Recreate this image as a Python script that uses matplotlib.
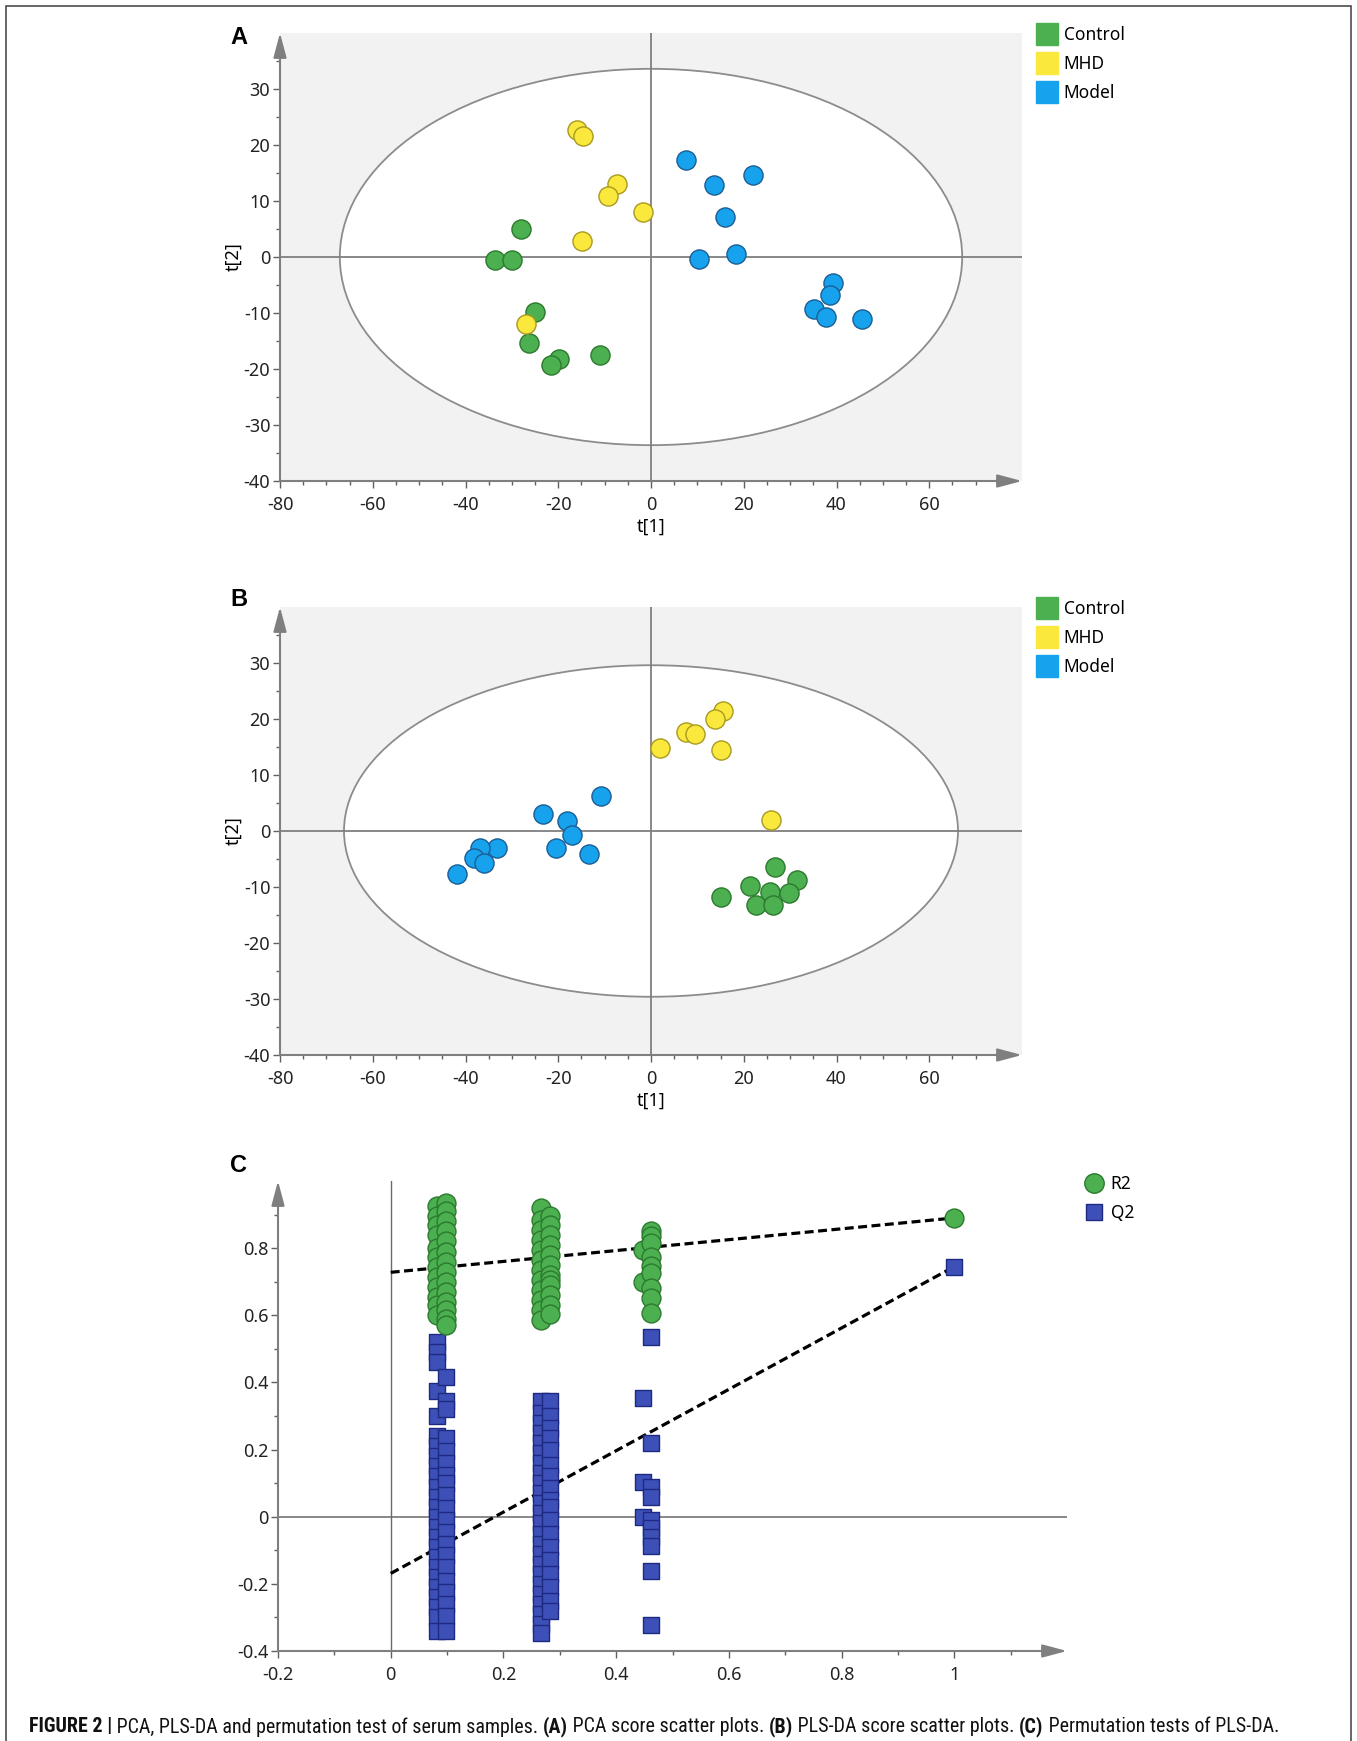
import matplotlib
matplotlib.use('Agg')
import matplotlib.pyplot as plt
from matplotlib import font_manager
from matplotlib.font_manager import FontProperties
from matplotlib.patches import Ellipse, Rectangle
from matplotlib.lines import Line2D
from matplotlib.ticker import FixedLocator, FuncFormatter

plt.rcParams['font.family'] = ['Noto Sans', 'DejaVu Sans']
plt.rcParams['axes.unicode_minus'] = False

# ---- data: PCA scores (panel A)
pca_control_x = [-28.1, -33.6, -29.9, -25.1, -26.3, -19.9, -21.5, -11.1]
pca_control_y = [5.0, -0.5, -0.5, -9.9, -15.3, -18.3, -19.2, -17.5]
pca_mhd_x = [-16.0, -14.7, -7.4, -9.2, -1.8, -14.8, -26.9]
pca_mhd_y = [22.7, 21.6, 13.1, 10.9, 8.1, 2.9, -12.0]
pca_model_x = [7.5, 22.0, 13.6, 16.0, 10.3, 18.4, 39.2, 38.6, 35.1, 37.7, 45.6]
pca_model_y = [17.4, 14.7, 12.8, 7.2, -0.4, 0.6, -4.6, -6.7, -9.3, -10.7, -11.0]
pca_ellipse = (67.1, 33.6)

# ---- data: PLS-DA scores (panel B)
pls_control_x = [26.8, 31.5, 21.4, 25.7, 29.7, 15.0, 22.6, 26.4]
pls_control_y = [-6.5, -8.8, -9.9, -10.9, -11.0, -11.7, -13.3, -13.3]
pls_mhd_x = [15.5, 13.9, 7.5, 9.4, 2.0, 15.1, 25.9]
pls_mhd_y = [21.4, 20.0, 17.7, 17.3, 14.9, 14.4, 2.0]
pls_model_x = [-10.7, -23.2, -18.1, -17.1, -20.5, -13.4, -33.2, -36.8, -38.2, -36.1, -41.9]
pls_model_y = [6.3, 3.1, 1.7, -0.7, -3.0, -4.1, -3.1, -3.1, -4.8, -5.8, -7.7]
pls_ellipse = (66.2, 29.6)

group_names = ['Control', 'MHD', 'Model']

# ---- data: permutation test (panel C), one list per column of points
perm_col_x = [0.083, 0.098, 0.266, 0.282, 0.447, 0.461]
r2_cols = [
    [0.925, 0.895, 0.87, 0.84, 0.80, 0.775, 0.745, 0.715, 0.685, 0.655, 0.63, 0.60],
    [0.935, 0.91, 0.88, 0.85, 0.82, 0.79, 0.76, 0.73, 0.70, 0.67, 0.64, 0.615, 0.59, 0.57],
    [0.92, 0.885, 0.855, 0.825, 0.795, 0.765, 0.735, 0.705, 0.675, 0.645, 0.615, 0.585],
    [0.895, 0.87, 0.84, 0.81, 0.78, 0.75, 0.72, 0.705, 0.69, 0.66, 0.63, 0.605],
    [0.793, 0.70],
    [0.852, 0.835, 0.815, 0.775, 0.747, 0.725, 0.68, 0.651, 0.608],
]
q2_cols = [
    [0.52, 0.49, 0.46, 0.375, 0.30, 0.24, 0.21, 0.18, 0.15, 0.12, 0.09, 0.06, 0.03, 0.0,
     -0.03, -0.06, -0.09, -0.12, -0.15, -0.18, -0.21, -0.24, -0.27, -0.30, -0.34],
    [0.415, 0.345, 0.32, 0.235, 0.195, 0.16, 0.125, 0.10, 0.065, 0.025, -0.01, -0.045,
     -0.08, -0.115, -0.15, -0.19, -0.225, -0.26, -0.295, -0.34],
    [0.345, 0.31, 0.28, 0.25, 0.22, 0.19, 0.16, 0.13, 0.10, 0.07, 0.04, 0.01, -0.02,
     -0.05, -0.08, -0.11, -0.14, -0.17, -0.20, -0.23, -0.26, -0.29, -0.32, -0.345],
    [0.345, 0.30, 0.265, 0.235, 0.20, 0.155, 0.12, 0.085, 0.05, 0.03, -0.01, -0.05,
     -0.09, -0.13, -0.17, -0.21, -0.25, -0.28],
    [0.354, 0.102, 0.0],
    [0.534, 0.221, 0.09, 0.06, -0.01, -0.035, -0.06, -0.088, -0.161, -0.322],
]
r2_orig = 0.89
q2_orig = 0.745
r2_intercept = 0.728
q2_intercept = -0.169

caption_parts = [
    ('FIGURE 2 |', 'bold'),
    (' PCA, PLS-DA and permutation test of serum samples. ', 'normal'),
    ('(A)', 'bold'),
    (' PCA score scatter plots. ', 'normal'),
    ('(B)', 'bold'),
    (' PLS-DA score scatter plots. ', 'normal'),
    ('(C)', 'bold'),
    (' Permutation tests of PLS-DA.', 'normal'),
]

# ---- styles
FILL = {'Control': '#4CAF50', 'MHD': '#FAE83C', 'Model': '#16A2EC'}
EDGE = {'Control': '#2B7A2E', 'MHD': '#A89A20', 'Model': '#1B5E96'}
Q2_FILL, Q2_EDGE = '#3D50B8', '#1E2A80'
AXIS_GRAY = '#7f7f7f'
TICK_SIZE = 13

W, H = 1357, 1741
fig = plt.figure(figsize=(W / 100, H / 100), dpi=100)


def px_rect(x0, y0, w, h):
    # pixel box (from top-left) -> figure fraction
    return [x0 / W, 1 - (y0 + h) / H, w / W, h / H]


def axis_arrows(ax):
    for s in ax.spines.values():
        s.set_visible(False)
    kw = dict(arrowstyle='-|>,head_length=0.75,head_width=0.2', color=AXIS_GRAY,
              lw=1.5, shrinkA=0, shrinkB=0, mutation_scale=20)
    ax.annotate('', xy=(1, 0), xytext=(0, 0), xycoords='axes fraction',
                arrowprops=kw, annotation_clip=False, zorder=5)
    ax.annotate('', xy=(0, 1), xytext=(0, 0), xycoords='axes fraction',
                arrowprops=kw, annotation_clip=False, zorder=5)


def tick_fmt(v, pos):
    s = '%g' % round(v, 2)
    return '0' if s in ('-0', '0') else s


def style_ticks(ax, xmaj, xmin, ymaj, ymin):
    ax.xaxis.set_major_locator(FixedLocator(xmaj))
    ax.xaxis.set_minor_locator(FixedLocator(xmin))
    ax.yaxis.set_major_locator(FixedLocator(ymaj))
    ax.yaxis.set_minor_locator(FixedLocator(ymin))
    ax.xaxis.set_major_formatter(FuncFormatter(tick_fmt))
    ax.yaxis.set_major_formatter(FuncFormatter(tick_fmt))
    ax.tick_params(which='major', length=5, width=1, color='#606060', labelsize=TICK_SIZE,
                   labelcolor='#222222')
    ax.tick_params(which='minor', length=3, width=1, color='#606060')
    ax.tick_params(axis='x', which='major', pad=6)
    ax.tick_params(axis='y', which='major', pad=2)


def score_plot(ax, groups, ell):
    ax.set_xlim(-80, 80)
    ax.set_ylim(-40, 40)
    ax.set_facecolor('#f2f2f2')
    ax.add_patch(Ellipse((0, 0), 2 * ell[0], 2 * ell[1], fc='white', ec='#8c8c8c',
                         lw=1.3, zorder=1))
    ax.axhline(0, color=AXIS_GRAY, lw=1.3, zorder=1.5)
    ax.axvline(0, color=AXIS_GRAY, lw=1.3, zorder=1.5)
    for name, (x, y) in zip(group_names, groups):
        ax.scatter(x, y, s=190, c=FILL[name], edgecolors=EDGE[name], linewidths=1, zorder=3)
    axis_arrows(ax)
    style_ticks(ax, range(-80, 61, 20), range(-75, 76, 5), range(-40, 31, 10), range(-35, 36, 5))
    ax.set_xlabel('t[1]', fontsize=TICK_SIZE)
    ax.set_ylabel('t[2]', fontsize=TICK_SIZE)
    ax.xaxis.set_label_coords(0.5, -0.083)
    ax.yaxis.set_label_coords(-0.05, 0.5)
    handles = [Line2D([], [], ls='', marker='s', markersize=16.5, markerfacecolor=FILL[n],
                      markeredgecolor=FILL[n]) for n in group_names]
    return handles


def score_legend(handles, top_px):
    fig.legend(handles, group_names, loc='upper left',
               bbox_to_anchor=(1036 / W, 1 - top_px / H), frameon=False, fontsize=12.5,
               borderpad=0, borderaxespad=0, handlelength=1.3, handletextpad=0.3,
               labelspacing=0.64)


# panel A
ax_a = fig.add_axes(px_rect(280, 33, 742, 448))
h = score_plot(ax_a, [(pca_control_x, pca_control_y), (pca_mhd_x, pca_mhd_y),
                      (pca_model_x, pca_model_y)], pca_ellipse)
score_legend(h, 26)

# panel B
ax_b = fig.add_axes(px_rect(280, 607, 742, 448))
h = score_plot(ax_b, [(pls_control_x, pls_control_y), (pls_mhd_x, pls_mhd_y),
                      (pls_model_x, pls_model_y)], pls_ellipse)
score_legend(h, 600)

# panel C
ax_c = fig.add_axes(px_rect(278, 1181, 789, 470))
ax_c.set_xlim(-0.2, 1.2)
ax_c.set_ylim(-0.4, 1.0)
ax_c.axhline(0, color=AXIS_GRAY, lw=1.3, zorder=1)
ax_c.axvline(0, color='#6a6a6a', lw=1.0, zorder=1)
dash = (0, (2.8, 1.4))
ax_c.plot([0, 1], [r2_intercept, r2_orig], ls=dash, color='black', lw=2.3, zorder=2)
ax_c.plot([0, 1], [q2_intercept, q2_orig], ls=dash, color='black', lw=2.3, zorder=2)
for cx, ys in zip(perm_col_x, q2_cols):
    ax_c.scatter([cx] * len(ys), ys, s=130, marker='s', c=Q2_FILL, edgecolors=Q2_EDGE,
                 linewidths=1, zorder=3)
for cx, ys in zip(perm_col_x, r2_cols):
    ax_c.scatter([cx] * len(ys), ys, s=185, c=FILL['Control'], edgecolors=EDGE['Control'],
                 linewidths=1, zorder=4)
ax_c.scatter([1.0], [q2_orig], s=130, marker='s', c=Q2_FILL, edgecolors=Q2_EDGE,
             linewidths=1, zorder=3)
ax_c.scatter([1.0], [r2_orig], s=185, c=FILL['Control'], edgecolors=EDGE['Control'],
             linewidths=1, zorder=4)
axis_arrows(ax_c)
style_ticks(ax_c, [-0.2, 0, 0.2, 0.4, 0.6, 0.8, 1.0], [-0.1, 0.1, 0.3, 0.5, 0.7, 0.9, 1.1],
            [-0.4, -0.2, 0, 0.2, 0.4, 0.6, 0.8], [-0.3, -0.1, 0.1, 0.3, 0.5, 0.7, 0.9])
c_handles = [
    Line2D([], [], ls='', marker='o', markersize=14, markerfacecolor=FILL['Control'],
           markeredgecolor=EDGE['Control']),
    Line2D([], [], ls='', marker='s', markersize=12, markerfacecolor=Q2_FILL,
           markeredgecolor=Q2_EDGE),
]
fig.legend(c_handles, ['R2', 'Q2'], loc='upper left', bbox_to_anchor=(1082 / W, 1 - 1175 / H),
           frameon=False, fontsize=12.5, borderpad=0, borderaxespad=0, handlelength=1.35,
           handletextpad=0.3, labelspacing=0.62)

# panel letters
for letter, y in [('A', 37), ('B', 600), ('C', 1165)]:
    fig.text(230 / W, 1 - y / H, letter, fontsize=17, weight='bold', family='Liberation Sans',
             ha='left', va='center')

# outer frame
fig.patches.append(Rectangle((6 / W, -0.01), (1351 - 6) / W, 1 - 6 / H + 0.01,
                             transform=fig.transFigure, fill=False, ec='#4d4d4d', lw=1.2))


# caption font: a narrow sans if one is installed
def pick_caption_font():
    names = {f.name for f in font_manager.fontManager.ttflist}
    for fam in ['Liberation Sans Narrow', 'Roboto Condensed', 'Open Sans Condensed']:
        if fam in names:
            return dict(family=fam)
    for fam in ['Noto Sans', 'DejaVu Sans', 'Open Sans']:
        path = font_manager.findfont(FontProperties(family=fam, stretch='condensed'),
                                     fallback_to_default=False)
        if 'ondensed' in path:
            return dict(family=fam, stretch='condensed')
    return dict(family='Liberation Sans')


cap_font = pick_caption_font()
renderer = fig.canvas.get_renderer()


def draw_caption(size, x0=29, yc=1727):
    objs = []
    x = x0
    for s, w in caption_parts:
        t = fig.text(x / W, 1 - yc / H, s, fontsize=size, weight=w, ha='left', va='center',
                     color='#111111', **cap_font)
        objs.append(t)
        x = t.get_window_extent(renderer).x1
    return objs, x - x0


objs, width = draw_caption(13)
for t in objs:
    t.remove()
draw_caption(min(13 * 1246 / width, 15.5))

fig.savefig('out.png', dpi=100)
